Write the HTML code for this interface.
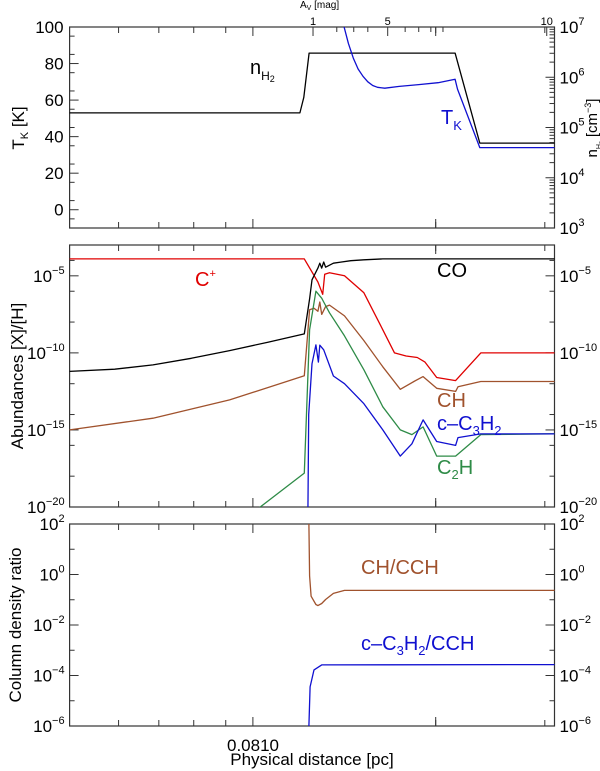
<!DOCTYPE html>
<html><head><meta charset="utf-8"><style>
html,body{margin:0;padding:0;background:#fff}
svg{display:block;font-family:"Liberation Sans",Arial,sans-serif}
</style></head><body>
<svg id="c" width="600" height="771" viewBox="0 0 600 771">
<defs>
<clipPath id="cp1"><rect x="69" y="27" width="486" height="201"/></clipPath>
<clipPath id="cp2"><rect x="69" y="245" width="486" height="262"/></clipPath>
<clipPath id="cp3"><rect x="69" y="524" width="486" height="202"/></clipPath>
</defs>
<g id="axes"></g>
<g id="marks"></g>
<g id="labels" font-size="17">
<text x="8" y="8" font-size="10" transform="translate(292,0)">A<tspan font-size="7" dy="2">V</tspan><tspan dy="-2"> [mag]</tspan></text>
<text x="250" y="74" font-size="20">n<tspan font-size="12" dy="6">H</tspan><tspan font-size="9" dy="2">2</tspan></text>
<text x="441" y="124" font-size="20" fill="#1010d0">T<tspan font-size="13" dy="6">K</tspan></text>
<text x="195" y="286" font-size="20" fill="#e00000">C<tspan font-size="11" dy="-9">+</tspan></text>
<text x="437" y="277" font-size="20">CO</text>
<text x="437" y="407" font-size="20" fill="#a0522d">CH</text>
<text x="437" y="430" font-size="20" fill="#1010d0">c–C<tspan font-size="13" dy="5">3</tspan><tspan dy="-5">H</tspan><tspan font-size="13" dy="5">2</tspan></text>
<text x="437" y="474" font-size="20" fill="#2e8b47">C<tspan font-size="13" dy="5">2</tspan><tspan dy="-5">H</tspan></text>
<text x="361" y="574" font-size="20" fill="#a0522d">CH/CCH</text>
<text x="361" y="650" font-size="20" fill="#1010d0">c–C<tspan font-size="13" dy="5">3</tspan><tspan dy="-5">H</tspan><tspan font-size="13" dy="5">2</tspan><tspan dy="-5">/CCH</tspan></text>
<text x="253" y="751" text-anchor="middle">0.0810</text>
<text x="312" y="771" dy="-6" text-anchor="middle">Physical distance [pc]</text>
<text transform="translate(24,128) rotate(-90)" text-anchor="middle">T<tspan font-size="11" dy="4">K</tspan><tspan dy="-4"> [K]</tspan></text>
<text transform="translate(597,128) rotate(-90)" text-anchor="middle" font-size="15">n<tspan font-size="7" dy="4">H₂</tspan><tspan dy="-4"> [cm</tspan><tspan font-size="9" dy="-6">−3</tspan><tspan dy="6">]</tspan></text>
<text transform="translate(23,376) rotate(-90)" text-anchor="middle">Abundances [X]/[H]</text>
<text transform="translate(21,625) rotate(-90)" text-anchor="middle">Column density ratio</text>
</g>
</svg>
<script>
// x in normalized model-depth units (0..100)
const nh2X=[0,47.5,48.3,49.4,79.5,84.6,100];
const nh2LogVal=[5.29,5.29,5.6,6.48,6.48,4.69,4.69];
const tkX=[54.0,55.5,56.6,57.5,58.5,59.5,60.5,61.5,62.5,63.5,65,68.0,72.0,76.0,79.5,80.0,84.6,100];
const tkVal=[130,112,100,91,83,77,73,70,68,67,66.5,67.5,68.5,69.5,71.4,66,34,34];
const coX=[0,9.3,17.2,25.1,33,40.9,48.4,49.5,50.0,51.2,51.6,52.0,52.4,52.8,54.4,55.9,58,60.7,64.6,100];
const coVal=[-11.2,-11.06,-10.78,-10.35,-9.85,-9.31,-8.77,-6.5,-5.26,-4.5,-4.18,-4.5,-4.1,-4.44,-4.18,-4.11,-4.02,-3.96,-3.9,-3.9];
const cpX=[0,48.4,51.2,52.2,52.6,53.6,56.7,60.7,64.6,67.0,69.4,71.7,73.3,75.7,79.6,84.8,100];
const cpVal=[-3.9,-3.9,-5.4,-6.2,-4.9,-4.8,-5.0,-6.1,-8.5,-10.0,-10.2,-10.3,-10.6,-11.6,-11.8,-10.0,-10.0];
const chX=[0,17.2,33,48.4,49.5,50.4,51.2,51.6,52.0,52.8,53.6,56.7,60.7,64.6,68.2,71.0,72.9,75.7,79.6,80.1,84.8,100];
const chVal=[-15,-14.24,-13.05,-11.49,-7.2,-7.1,-7.3,-6.7,-7.5,-7.0,-6.9,-7.6,-9.2,-10.9,-12.36,-11.86,-11.54,-12.3,-12.5,-12.2,-11.86,-11.86];
const c2hX=[35,39.3,48.4,49.5,50.8,51.6,52.0,52.4,53.6,56.7,60.7,64.6,68.2,70.6,72.9,75.7,79.6,84.8,100];
const c2hVal=[-21,-20,-17.8,-8.5,-6.0,-6.3,-6.45,-6.7,-7.4,-8.9,-11.1,-13.5,-15.0,-15.3,-14.8,-16.7,-16.7,-15.3,-15.25];
const c3X=[49.1,49.3,50.0,50.8,51.3,51.6,52.4,54.4,56.7,60.7,64.6,68.2,70.6,72.9,75.7,79.6,80.1,84.8,100];
const c3Val=[-22,-14,-10.7,-9.48,-10.6,-9.5,-9.8,-11.5,-12.0,-13.3,-15,-16.7,-15.9,-14.35,-15.75,-16.0,-15.5,-15.26,-15.26];
const rChX=[49.3,49.35,49.5,49.8,50.8,51.2,52.0,52.8,54.4,56.7,100];
const rChVal=[3,2,-0.06,-0.86,-1.19,-1.23,-1.15,-0.99,-0.75,-0.63,-0.63];
const rC3X=[49.3,49.35,49.6,50.4,52.0,100];
const rC3Val=[-7,-6,-4.45,-3.78,-3.58,-3.57];
const xMinorTicks=[10.1,18.4,25.6,32.2,75.5,98.0];
const xMajorTicks=[37.8,75.5];
const avTicks=[50.2,55.1,58.6,61.5,65.6,69.2,72.0,74.5,77.0,98.4];
const avMajor=[50.2,65.6,98.4];
const avLabels=["1","5","10"];
const tkTicks=[100,80,60,40,20,0];
const nh2Ticks=[3,4,5,6,7];
const abTicks=[-5,-10,-15,-20];
const ratioTicks=[2,0,-2,-4,-6];

const NS="http://www.w3.org/2000/svg";
const L=69.6,R=554.5;
const sx=d=>L+(R-L)*d/100;
const P1={t:27,b:228},P2={t:245,b:507},P3={t:524,b:726};
const yTk=v=>P1.t+(100-v)*(P1.b-P1.t)/110;
const yNh=v=>P1.b-(v-3)*(P1.b-P1.t)/4;
const yAb=v=>P2.t+(-3-v)*(P2.b-P2.t)/17;
const yRa=v=>P3.t+(2-v)*(P3.b-P3.t)/8;
const axes=document.getElementById('axes'),marks=document.getElementById('marks');
function mk(tag,at,parent){const e=document.createElementNS(NS,tag);for(const k in at)e.setAttribute(k,at[k]);parent.appendChild(e);return e;}
function line(x1,y1,x2,y2,name){const e=mk('line',{x1,y1,x2,y2,stroke:'#333','stroke-width':1},axes);

return e;}
function txt(x,y,base,exp,anchor,name){const e=mk('text',{x,y,'font-size':17,'text-anchor':anchor},axes);


e.textContent=base;if(exp!==null){const t=mk('tspan',{'font-size':11,dy:-8},e);t.textContent=exp;}return e;}
function series(xs,vs,yf,color,clip,name){let d='';xs.forEach((x,i)=>{d+=(i?'L':'M')+sx(x).toFixed(1)+','+yf(vs[i]).toFixed(1);});
const e=mk('path',{d,fill:'none',stroke:color,'stroke-width':1.3,'stroke-linejoin':'round','clip-path':'url(#'+clip+')'},marks);

}
[P1,P2,P3].forEach((p,i)=>{const r=mk('rect',{x:L,y:p.t,width:R-L,height:p.b-p.t,fill:'none',stroke:'#333','stroke-width':1.2},axes);


xMinorTicks.forEach(t=>{line(sx(t),p.b,sx(t),p.b-6,'x-tick');line(sx(t),p.t,sx(t),p.t+6,'x-tick-top');});
xMajorTicks.forEach(t=>{line(sx(t),p.b,sx(t),p.b-9,'x-major-tick');line(sx(t),p.t,sx(t),p.t+9,'x-major-tick-top');});});
avTicks.forEach(t=>{const len=avMajor.includes(t)?9:5;line(sx(t),P1.t,sx(t),P1.t+len,'av-tick');});
avMajor.forEach((t,i)=>{const e=txt(sx(t),25,avLabels[i],null,'middle','av-tick-label');e.setAttribute('font-size',11);});
tkTicks.forEach(v=>{line(L,yTk(v),L+9,yTk(v),'tk-tick');txt(L-6,yTk(v)+6,String(v),null,'end','tk-tick-label');});
for(let v=-5;v<=100;v+=10){line(L,yTk(v),L+5,yTk(v),'tk-minor-tick');}
nh2Ticks.forEach(v=>{line(R,yNh(v),R-9,yNh(v),'nh2-tick');txt(R+5,yNh(v)+6,'10',String(v),'start','nh2-tick-label');
if(v<7)for(let k=2;k<10;k++){const yy=yNh(v+Math.log10(k));line(R,yy,R-5,yy,'nh2-minor-tick');}});
abTicks.forEach(v=>{[L,R].forEach((x,j)=>{line(x,yAb(v),x+(j?-9:9),yAb(v),'abundance-tick');});
txt(L-5,yAb(v)+6,'10','−'+(-v),'end','abundance-tick-label');txt(R+5,yAb(v)+6,'10','−'+(-v),'start','abundance-tick-label-right');});
for(let v=-4;v>-20;v-=2){if(v%5){[L,R].forEach((x,j)=>line(x,yAb(v),x+(j?-5:5),yAb(v),'abundance-minor-tick'));}}
ratioTicks.forEach(v=>{[L,R].forEach((x,j)=>line(x,yRa(v),x+(j?-9:9),yRa(v),'ratio-tick'));
const s=v<0?'−'+(-v):String(v);txt(L-5,yRa(v)+6,'10',s,'end','ratio-tick-label');txt(R+5,yRa(v)+6,'10',s,'start','ratio-tick-label-right');
if(v>-6)[L,R].forEach((x,j)=>line(x,yRa(v-1),x+(j?-5:5),yRa(v-1),'ratio-minor-tick'));});
series(nh2X,nh2LogVal,yNh,'#000','cp1','nh2-line');
series(tkX,tkVal,yTk,'#1010d0','cp1','tk-line');
series(cpX,cpVal,yAb,'#e00000','cp2','cplus-line');
series(chX,chVal,yAb,'#a0522d','cp2','ch-line');
series(c2hX,c2hVal,yAb,'#2e8b47','cp2','c2h-line');
series(c3X,c3Val,yAb,'#1010d0','cp2','c3h2-line');
series(coX,coVal,yAb,'#000','cp2','co-line');
series(rChX,rChVal,yRa,'#a0522d','cp3','ch-cch-ratio-line');
series(rC3X,rC3Val,yRa,'#1010d0','cp3','c3h2-cch-ratio-line');
</script>
</body></html>
